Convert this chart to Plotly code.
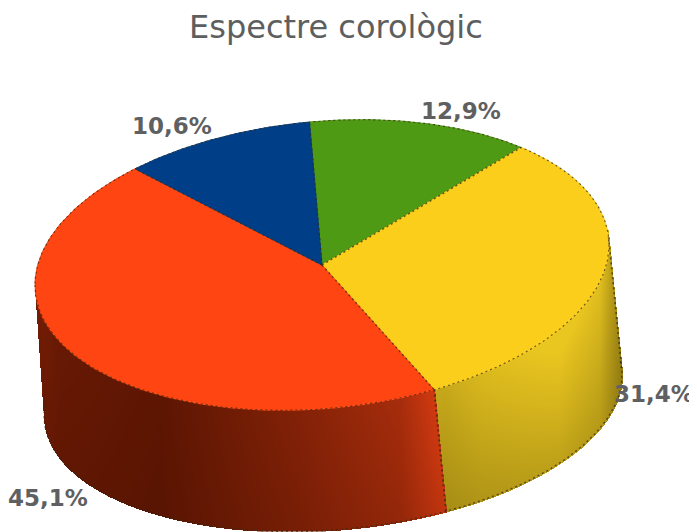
import numpy as np
import plotly.graph_objects as go

categories = ["Verd", "Groc", "Vermell", "Blau"]
values = [12.9, 31.4, 45.1, 10.6]
labels = ["12,9%", "31,4%", "45,1%", "10,6%"]
top_colors = ["#4F9A14", "#FBCE1C", "#FF4511", "#003F87"]
title = "Espectre corològic"

W, H = 697, 532
PAGE_INSET = 8  # the page's body margin; axes below are in window pixels
START = 92.5
TOP = dict(cx=322, cy=265, rx=287, ry=144, tilt=20)
BOT = dict(cx=333, cy=395, rx=289, ry=135, tilt=20)
EDGE = "#3a2a10"


def ell(e, deg):
    a = np.radians(deg)
    return e["cx"] + e["rx"] * np.cos(a), e["cy"] - e["ry"] * np.sin(a) - e["tilt"] * np.cos(a)


# wall shading: brightness along x (0 = dark stop, 1 = bright stop)
side = {
    "Groc": dict(xs=[445, 480, 560, 600, 624], z=[0.62, 0.78, 1.0, 0.85, 0.25],
                 scale=[[0, "#7D6A0E"], [1, "#EAC620"]], fall=0.48),
    "Vermell": dict(xs=[36, 60, 160, 300, 400, 445], z=[0.28, 0.19, 0.12, 0.37, 0.60, 0.97],
                    scale=[[0, "#4A1000"], [1, "#D83C12"]], fall=0.22),
}

fig = go.Figure()
angles = START - np.cumsum([0] + values) * 3.6

xgrid = np.arange(0, W)
ygrid = np.arange(0, H)
for i, cat in enumerate(categories):
    if cat not in side:
        continue
    s = side[cat]
    hi = min(angles[i], 6.0)
    lo = max(angles[i + 1], -186.0)
    dd, tt = np.meshgrid(np.linspace(lo, hi, 3000), np.linspace(0, 1, 400))
    xt, yt = ell(TOP, dd)
    xb, yb = ell(BOT, dd)
    px = xt + (xb - xt) * tt
    py = yt + (yb - yt) * tt
    zv = np.interp(px, s["xs"], s["z"]) * (1.08 - s["fall"] * tt)
    grid = np.full((H, W), np.nan)
    ix = np.clip(np.round(px).astype(int), 0, W - 1)
    iy = np.clip(np.round(py).astype(int), 0, H - 1)
    grid[iy, ix] = zv
    fig.add_trace(go.Heatmap(x=xgrid, y=ygrid, z=grid, zmin=0, zmax=1, colorscale=s["scale"],
                             showscale=False, hoverinfo="skip", name=cat))

# top faces
for i, cat in enumerate(categories):
    arc = np.linspace(angles[i], angles[i + 1], 120)
    ax, ay = ell(TOP, arc)
    px = [TOP["cx"]] + list(ax) + [TOP["cx"]]
    py = [TOP["cy"]] + list(ay) + [TOP["cy"]]
    fig.add_trace(go.Scatter(x=px, y=py, mode="lines", fill="toself", fillcolor=top_colors[i],
                             line=dict(color=top_colors[i], width=1), name=cat,
                             hovertemplate=cat + ": " + labels[i] + "<extra></extra>", showlegend=False))


def dash(x, y, w=1.4):
    fig.add_trace(go.Scatter(x=x, y=y, mode="lines", line=dict(color=EDGE, width=w, dash="2px,3px"),
                             hoverinfo="skip", showlegend=False, opacity=0.75))


for i, cat in enumerate(categories):
    ex, ey = ell(TOP, angles[i])
    dash([TOP["cx"], ex], [TOP["cy"], ey])
ax, ay = ell(TOP, np.linspace(-180, 180, 400))
dash(ax, ay, 1.1)
ax, ay = ell(BOT, np.linspace(6, -186, 200))
dash(ax, ay)
xa, ya = ell(TOP, angles[2])
xb, yb = ell(BOT, angles[2])
dash([xa, xb], [ya, yb], 2)
xa, ya = ell(TOP, 3)
xb, yb = ell(BOT, 3)
dash([xa, xb], [ya, yb], 1.6)

label_pos = {"12,9%": (461, 111), "31,4%": (654, 394), "45,1%": (48, 498), "10,6%": (172, 126)}
annotations = [dict(x=label_pos[t][0], y=label_pos[t][1], text="<b>%s</b>" % t, showarrow=False,
                    xanchor="center", yanchor="middle",
                    font=dict(family="DejaVu Sans", size=23, color="#5E6062")) for t in labels]
annotations.append(dict(x=336, y=27, text=title, showarrow=False, xanchor="center", yanchor="middle",
                        font=dict(family="DejaVu Sans", size=32, color="#5C5E60")))

fig.update_layout(width=W - PAGE_INSET, height=H - PAGE_INSET, margin=dict(l=0, r=0, t=0, b=0),
                  paper_bgcolor="white", plot_bgcolor="white", annotations=annotations, showlegend=False,
                  xaxis=dict(range=[PAGE_INSET, W], visible=False, fixedrange=True),
                  yaxis=dict(range=[H, PAGE_INSET], visible=False, fixedrange=True))
fig.write_html("out.html", config=dict(displayModeBar=False))
